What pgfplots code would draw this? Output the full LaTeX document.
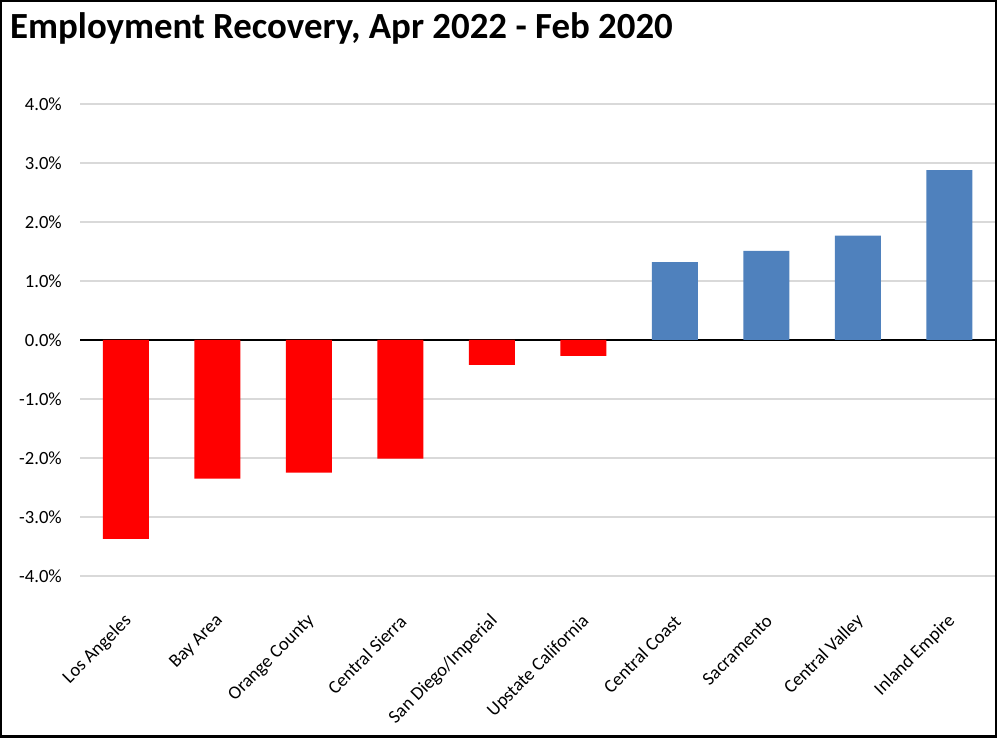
\documentclass[border=0pt]{standalone}
\usepackage{fontspec}
\setmainfont{Carlito}
\usepackage{pgfplots}
\pgfplotsset{compat=1.18}
\definecolor{negred}{HTML}{FF0000}
\definecolor{posblue}{HTML}{4F81BD}
\definecolor{gridgray}{HTML}{D9D9D9}

\begin{document}
\begin{tikzpicture}[x=1bp,y=1bp]
\useasboundingbox (0,0) rectangle (999,739);
\draw[line width=2.2bp] (1.1,2.5) rectangle (996,737.9);
\node[anchor=base west, inner sep=0, font=\fontsize{37}{42}\selectfont\bfseries]
  at (10,700) {Employment Recovery, Apr 2022 - Feb 2020};
\begin{axis}[
  at={(80bp,163bp)}, anchor=south west,
  scale only axis, width=915bp, height=472bp,
  xmin=-0.5, xmax=9.5, ymin=-4, ymax=4,
  ytick={-4,-3,...,4},
  xtick={0,...,9},
  xticklabels={Los Angeles, Bay Area, Orange County, Central Sierra,
    San Diego/Imperial, Upstate California, Central Coast, Sacramento,
    Central Valley, Inland Empire},
  /pgf/number format/assume math mode=true,
  yticklabel={\pgfmathprintnumber[fixed,fixed zerofill,precision=1]{\tick}\%},
  yticklabel style={font=\fontsize{18.7}{20}\selectfont, anchor=east, inner sep=0pt, xshift=-18bp},
  xticklabel style={font=\fontsize{18.7}{20}\selectfont, inner sep=0pt, yshift=-38bp, xshift=3bp, rotate=45, anchor=east},
  axis line style={draw=none},
  major tick style={draw=none},
  ymajorgrids,
  grid style={gridgray, line width=1.6bp},
  extra y ticks={0},
  extra y tick labels={},
  extra y tick style={grid style={black, line width=1.8bp}},
  ybar, bar width=46bp, bar shift=0pt,
]
\addplot[fill=negred, draw=none] coordinates {
  (0,-3.37) (1,-2.35) (2,-2.25) (3,-2.01) (4,-0.42) (5,-0.27)
};
\addplot[fill=posblue, draw=none] coordinates {
  (6,1.32) (7,1.51) (8,1.77) (9,2.88)
};
\end{axis}
\end{tikzpicture}
\end{document}
